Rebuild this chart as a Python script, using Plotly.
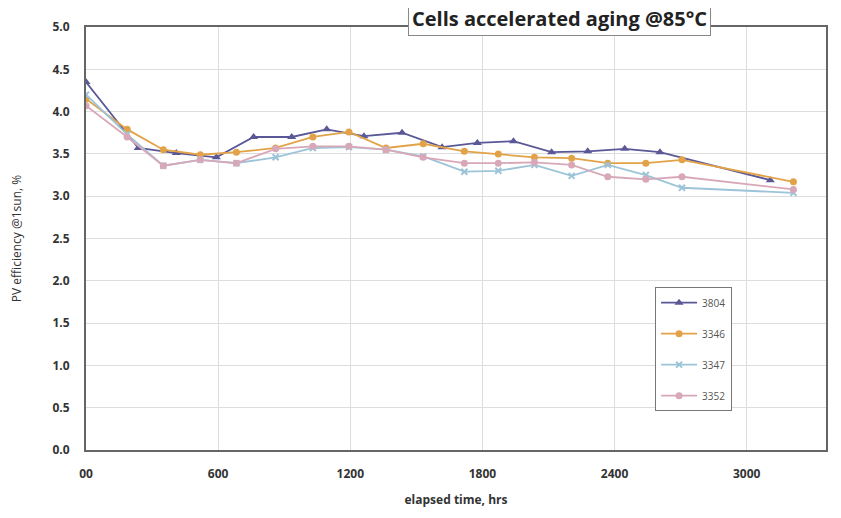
import plotly.graph_objects as go

# Data
hrs_3804 = [0, 237, 410, 592, 761, 934, 1093, 1262, 1435, 1617, 1777, 1941, 2114, 2278, 2446, 2606, 3107]
eff_3804 = [4.35, 3.57, 3.51, 3.46, 3.70, 3.70, 3.79, 3.71, 3.75, 3.58, 3.63, 3.65, 3.52, 3.53, 3.56, 3.52, 3.19]

hrs_common = [0, 187, 351, 519, 683, 861, 1030, 1194, 1362, 1531, 1718, 1872, 2036, 2205, 2369, 2542, 2706, 3212]
eff_3346 = [4.15, 3.79, 3.55, 3.49, 3.52, 3.57, 3.70, 3.76, 3.57, 3.62, 3.53, 3.50, 3.46, 3.45, 3.39, 3.39, 3.43, 3.17]
eff_3347 = [4.20, 3.73, 3.36, 3.43, 3.39, 3.46, 3.57, 3.58, 3.55, 3.47, 3.29, 3.30, 3.37, 3.24, 3.37, 3.25, 3.10, 3.04]
eff_3352 = [4.07, 3.70, 3.36, 3.43, 3.39, 3.56, 3.59, 3.59, 3.55, 3.46, 3.39, 3.39, 3.40, 3.37, 3.23, 3.20, 3.23, 3.08]

x_tickvals = [0, 600, 1200, 1800, 2400, 3000]
x_ticktext = ["00", "600", "1200", "1800", "2400", "3000"]
y_tickvals = [0.0, 0.5, 1.0, 1.5, 2.0, 2.5, 3.0, 3.5, 4.0, 4.5, 5.0]
y_ticktext = ["%.1f" % v for v in y_tickvals]

fig = go.Figure()
fig.add_trace(go.Scatter(x=hrs_3804, y=eff_3804, name="3804", mode="lines+markers", legendgroup="a",
                         line=dict(color="#5A5897", width=1.8),
                         marker=dict(symbol="triangle-up", size=8, color="#5A5897")))
fig.add_trace(go.Scatter(x=hrs_common, y=eff_3346, name="3346", mode="lines+markers", legendgroup="b",
                         line=dict(color="#E2A247", width=1.8),
                         marker=dict(symbol="circle", size=7, color="#E2A247")))
fig.add_trace(go.Scatter(x=hrs_common, y=eff_3347, name="3347", mode="lines+markers", legendgroup="c",
                         line=dict(color="#9CC4D8", width=1.8),
                         marker=dict(symbol="x-thin", size=6, color="#9CC4D8",
                                     line=dict(color="#9CC4D8", width=2))))
fig.add_trace(go.Scatter(x=hrs_common, y=eff_3352, name="3352", mode="lines+markers", legendgroup="d",
                         line=dict(color="#D8A8B8", width=1.8),
                         marker=dict(symbol="circle", size=7, color="#D8A8B8")))

fig.update_layout(
    width=841, height=518,
    margin=dict(l=78, r=23, t=19, b=76),
    paper_bgcolor="white", plot_bgcolor="white",
    font=dict(family="Open Sans, Liberation Sans, sans-serif", color="#333333"),
    showlegend=True,
    legend=dict(x=0.769, y=0.385, xanchor="left", yanchor="top",
                bgcolor="white", bordercolor="#777777", borderwidth=1,
                font=dict(size=10, color="#555555"),
                itemwidth=36, tracegroupgap=12),
    annotations=[dict(text="<b>Cells accelerated aging @85°C</b>",
                      xref="paper", yref="paper", x=0.640, y=1.019,
                      xanchor="center", yanchor="middle", showarrow=False,
                      font=dict(size=20, color="#222222"),
                      bgcolor="white", bordercolor="#888888", borderwidth=1,
                      borderpad=3)],
)
fig.update_xaxes(range=[0, 3360], tickvals=x_tickvals, ticktext=["<b>%s</b>" % t for t in x_ticktext],
                 showgrid=True, gridcolor="#DDDDDD", gridwidth=1,
                 showline=True, linecolor="#666666", linewidth=2, mirror=True,
                 ticks="", tickfont=dict(size=12, color="#333333"), ticklabelstandoff=12,
                 automargin=False,
                 title=dict(text="<b>elapsed time, hrs</b>", font=dict(size=12, color="#333333"), standoff=14),
                 zeroline=False)
fig.update_yaxes(range=[0, 5], tickvals=y_tickvals, ticktext=["<b>%s</b>" % t for t in y_ticktext],
                 showgrid=True, gridcolor="#DDDDDD", gridwidth=1,
                 showline=True, linecolor="#666666", linewidth=2, mirror=True,
                 ticks="", tickfont=dict(size=12, color="#333333"), ticklabelstandoff=12,
                 automargin=False,
                 title=dict(text="PV efficiency @1sun, %", font=dict(size=12, color="#333333"), standoff=28),
                 zeroline=False)

fig.write_html("out.html")
